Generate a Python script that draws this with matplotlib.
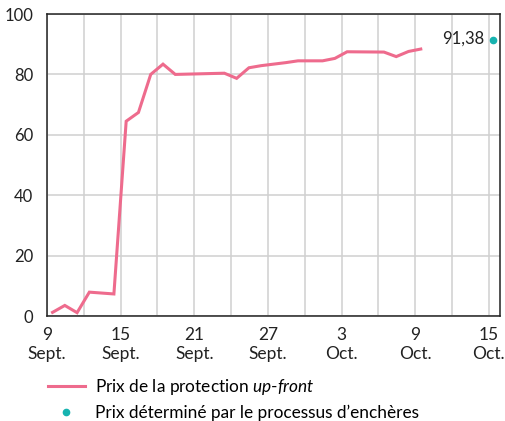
import matplotlib.pyplot as plt

plt.rcParams['font.family'] = ['Lato', 'DejaVu Sans']
plt.rcParams['mathtext.fontset'] = 'custom'
plt.rcParams['mathtext.it'] = 'Lato:italic'
plt.rcParams['mathtext.rm'] = 'Lato'

# jours depuis le 9 septembre
jours = [0, 1, 2, 3, 5, 6, 7, 8, 9, 10, 12, 14, 15, 16, 17, 18, 19, 20, 22, 23, 24, 27, 28, 29, 30]
prix = [1.2, 3.5, 1.1, 7.9, 7.3, 64.5, 67.4, 80.0, 83.4, 80.0, 80.2, 80.4, 78.7, 82.2,
        82.9, 83.4, 83.9, 84.5, 84.5, 85.3, 87.5, 87.4, 85.9, 87.6, 88.4]

jour_enchere = 36
prix_enchere = 91.38

tick_jours = [0, 6, 12, 18, 24, 30, 36]
tick_labels = ['9\nSept.', '15\nSept.', '21\nSept.', '27\nSept.', '3\nOct.', '9\nOct.', '15\nOct.']

fig = plt.figure(figsize=(5.06, 4.21), dpi=100)
ax = fig.add_axes([0.0929, 0.2494, 0.8951, 0.7173])

x = [j + 0.45 for j in jours]
ax.plot(x, prix, color='#ee6b8d', lw=2.2, solid_joinstyle='miter',
        label='Prix de la protection $\\it{up}$-$\\it{front}$', zorder=3)
ax.plot([jour_enchere + 0.3], [prix_enchere], 'o', color='#17b3b0', ms=4.5,
        label='Prix déterminé par le processus d’enchères', zorder=3)
ax.annotate('91,38', (jour_enchere + 0.3, prix_enchere), xytext=(-6, 1),
            textcoords='offset points', ha='right', va='center', fontsize=12, color='#222222')

ax.set_xlim(0, 36.9)
ax.set_ylim(0, 100)
ax.set_xticks(range(0, 37, 3), minor=True)
ax.set_xticks(tick_jours)
ax.set_xticklabels(tick_labels)
ax.set_yticks(range(0, 101, 20))
ax.tick_params(axis='both', which='both', length=0, labelsize=12, colors='#222222')
ax.tick_params(axis='x', pad=8, labelsize=12.5)
ax.tick_params(axis='y', pad=10)
ax.grid(True, which='both', color='#d0d0d0', lw=1.1)
ax.set_axisbelow(True)
for s in ax.spines.values():
    s.set_color('#222222')
    s.set_linewidth(1.1)

fig.legend(loc='upper left', bbox_to_anchor=(0.094, 0.104), frameon=False,
           fontsize=12.4, handlelength=2.15, handletextpad=0.6, labelspacing=0.45,
           borderaxespad=0, borderpad=0)

fig.savefig('out.png', dpi=100)
